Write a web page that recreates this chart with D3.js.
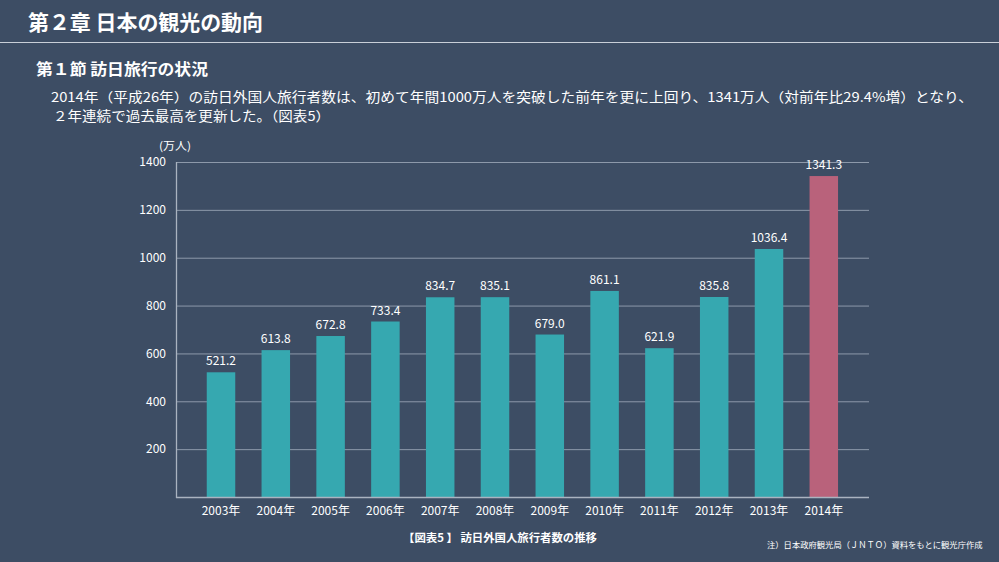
<!DOCTYPE html>
<html><head><meta charset="utf-8">
<script src="https://cdn.jsdelivr.net/npm/d3@7"></script>
<style>html,body{margin:0;padding:0;background:#3d4d64;}svg{display:block;}</style>
</head><body>
<svg id="c" width="999" height="562"></svg>
<script>
const categories = ["2003年","2004年","2005年","2006年","2007年","2008年","2009年","2010年","2011年","2012年","2013年","2014年"];
const values = [521.2,613.8,672.8,733.4,834.7,835.1,679.0,861.1,621.9,835.8,1036.4,1341.3];
const yTicks = [200,400,600,800,1000,1200,1400];
const highlight = ["2014年"];

const font = "'Noto Sans CJK JP','Noto Sans',sans-serif";
const svg = d3.select("#c");
svg.append("rect").attr("width",999).attr("height",562).attr("fill","#3d4d64");

function txt(x0, yb, size, weight, s, len) {
  const t = svg.append("text").attr("x",x0).attr("y",yb).attr("fill","#ffffff")
    .attr("font-family",font).attr("font-size",size).attr("font-weight",weight).text(s);
  if (len) t.attr("textLength",len).attr("lengthAdjust","spacingAndGlyphs");
  return t;
}

txt(28, 30, 21, "bold", "第２章 日本の観光の動向", 235);
svg.append("line").attr("x1",0).attr("x2",999).attr("y1",42.5).attr("y2",42.5).attr("stroke","#c9cfd8").attr("stroke-width",1);
txt(36, 75, 15.5, "bold", "第１節 訪日旅行の状況", 172);

txt(51, 102, 13.2, "normal", "2014年（平成26年）の訪日外国人旅行者数は、初めて年間1000万人を突破した前年を更に上回り、1341万人（対前年比29.4%増）となり、", 922);
txt(53, 121, 13.2, "normal", "２年連続で過去最高を更新した。（図表5）", 277);

const x0 = 176, x1 = 869, yTop = 162, yBot = 497;
const y = d3.scaleLinear().domain([0,1400]).range([yBot,yTop]);
const x = d3.scaleBand().domain(categories).range([193.6,851.2]).paddingInner(0.48).paddingOuter(0.24);

svg.append("g").selectAll("line").data(yTicks).join("line")
  .attr("x1",x0).attr("x2",x1).attr("y1",d=>y(d)+0.5).attr("y2",d=>y(d)+0.5)
  .attr("stroke","#8d99aa").attr("stroke-width",1);

svg.append("g").selectAll("rect").data(categories).join("rect")
  .attr("x",d=>x(d)).attr("width",x.bandwidth())
  .attr("y",(d,i)=>y(values[i])).attr("height",(d,i)=>yBot-y(values[i]))
  .attr("fill",d=>highlight.includes(d)?"#b9627b":"#36a8b0");

svg.append("g").selectAll("text").data(categories).join("text")
  .attr("x",d=>x(d)+x.bandwidth()/2).attr("y",(d,i)=>y(values[i])-7)
  .attr("text-anchor","middle").attr("fill","#ffffff").attr("font-family",font).attr("font-size",12)
  .text((d,i)=>values[i].toFixed(1));

const yAxis = d3.axisLeft(y).tickValues(yTicks).tickSize(0).tickPadding(10).tickFormat(d3.format("d"));
const gy = svg.append("g").attr("transform",`translate(${x0},0)`).call(yAxis);
gy.select(".domain").remove();
gy.selectAll("text").attr("fill","#ffffff").attr("font-family",font).attr("font-size",12);

const xAxis = d3.axisBottom(x).tickSize(0).tickPadding(9);
const gx = svg.append("g").attr("transform",`translate(0,${yBot})`).call(xAxis);
gx.select(".domain").remove();
gx.selectAll("text").attr("fill","#ffffff").attr("font-family",font).attr("font-size",12);

svg.append("line").attr("x1",x0+0.5).attr("x2",x0+0.5).attr("y1",yTop).attr("y2",yBot+1).attr("stroke","#aab3c0").attr("stroke-width",1.3);
svg.append("line").attr("x1",x0).attr("x2",x1).attr("y1",yBot+0.5).attr("y2",yBot+0.5).attr("stroke","#aab3c0").attr("stroke-width",1.3);

txt(159, 150, 11, "normal", "(万人)", 32);
txt(403, 542, 11, "bold", "【図表5 】 訪日外国人旅行者数の推移", 194);
txt(767, 548, 8.3, "normal", "注）日本政府観光局（ＪＮＴＯ）資料をもとに観光庁作成");
</script>
</body></html>
